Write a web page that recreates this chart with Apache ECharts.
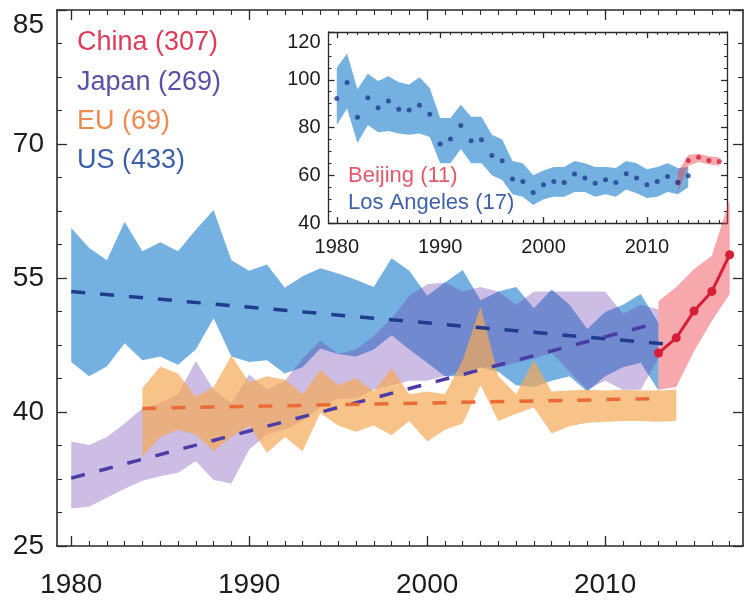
<!DOCTYPE html>
<html>
<head>
<meta charset="utf-8">
<script src="https://cdn.jsdelivr.net/npm/echarts@6/dist/echarts.min.js"></script>
<style>
  html, body { margin: 0; padding: 0; background: #fff; }
  #chart { width: 748px; height: 603px; }
</style>
</head>
<body>
<div id="chart"></div>
<script>
// ---- Yearly ozone statistics (main panel) ----
const yearsUsJp = [1980,1981,1982,1983,1984,1985,1986,1987,1988,1989,1990,1991,1992,1993,1994,1995,1996,1997,1998,1999,2000,2001,2002,2003,2004,2005,2006,2007,2008,2009,2010,2011,2012,2013];
const usUpper = [60.6,58.4,57.0,61.3,58.0,59.0,58.0,60.4,62.6,57.0, 55.8,56.5,53.9,55.2,56.1,55.5,54.8,54.0,57.2,55.8, 53.0,54.5,55.9,52.5,53.5,54.0,51.6,53.7,52.0,49.3, 51.2,52.0,53.2,50.0];
const usLower = [45.6,44.0,45.1,47.7,45.8,46.2,45.3,47.0,50.5,46.2, 45.6,45.8,44.3,45.0,47.1,46.5,46.2,47.0,48.6,47.0, 45.5,44.0,44.0,45.0,44.5,43.0,42.8,43.5,44.0,42.3, 44.0,45.0,45.5,42.4];
const jpUpper = [36.7,36.3,37.2,38.7,40.4,41.0,42.0,45.7,42.5,41.0, 44.2,42.5,43.5,46.0,48.0,46.5,47.0,48.5,50.5,53.0, 54.3,54.5,53.5,54.0,53.5,52.0,53.5,53.5,53.5,53.5, 53.5,51.0,52.0,51.5];
const jpLower = [29.2,29.4,30.4,31.4,32.3,32.8,33.2,34.5,32.4,32.0, 35.8,37.5,38.0,39.0,40.5,41.5,41.5,42.5,43.0,43.5, 43.5,44.0,44.5,45.0,45.0,45.5,46.0,46.6,44.5,42.5, 43.5,42.5,42.5,46.0];

const yearsEu = [1984,1985,1986,1987,1988,1989,1990,1991,1992,1993,1994,1995,1996,1997,1998,1999,2000,2001,2002,2003,2004,2005,2006,2007,2008,2009,2010,2011,2012,2013,2014];
const euUpper = [42.7,45.1,44.3,41.7,42.8,46.3,43.3,44.0,43.6,42.0, 44.7,43.0,43.8,42.3,44.9,42.0,42.3,42.0,45.8,51.8, 44.0,42.0,45.8,42.3,42.4,42.5,42.4,42.5,42.4,42.4, 42.5];
const euLower = [35.0,37.2,38.0,37.5,35.6,37.2,38.5,35.4,37.2,35.6, 39.9,38.5,37.8,38.5,37.4,39.0,36.7,38.0,38.7,43.0, 39.0,39.8,40.5,37.6,38.4,38.8,38.9,39.0,39.0,38.9, 39.0];

const yearsCn = [2013,2014,2015,2016,2017];
const cnMean  = [46.6,48.3,51.3,53.5,57.6];
const cnLower = [42.5,42.8,46.8,50.2,53.2];
const cnUpper = [52.4,54.0,56.0,57.5,63.8];

// Linear trends (start/end points)
const usTrendYears = [1980, 2014];
const usTrend      = [53.5, 47.5];
const jpTrendYears = [1980, 2013];
const jpTrend      = [32.6, 50.0];
const euTrendYears = [1984, 2013];
const euTrend      = [40.4, 41.5];

// ---- City records (inset) ----
const yearsLa = [1980,1981,1982,1983,1984,1985,1986,1987,1988,1989,1990,1991,1992,1993,1994,1995,1996,1997,1998,1999,2000,2001,2002,2003,2004,2005,2006,2007,2008,2009,2010,2011,2012,2013,2014];
const laMean  = [92.1,98.8,84.3,92.5,88.3,91.1,87.6,87.3,89.3,85.5, 73.1,75.2,80.8,74.5,74.9,68.3,66.1,58.4,57.4,52.8, 56.0,57.4,57.0,60.5,58.8,56.7,58.1,57.0,60.6,58.9, 56.0,57.4,59.5,57.0,59.8];
const laLower = [81.0,88.0,73.5,81.0,78.0,78.5,77.5,77.0,77.5,76.0, 65.0,65.0,71.0,65.0,65.0,60.0,58.0,52.0,51.0,47.5, 50.0,51.0,51.0,53.0,53.0,51.0,52.0,51.0,54.0,52.5, 50.5,51.0,53.0,52.0,55.0];
const laUpper = [105.0,111.0,96.0,102.5,99.5,101.5,99.0,98.0,101.0,96.5, 84.0,84.0,89.5,84.5,84.5,77.0,75.0,66.0,65.0,60.0, 62.0,63.5,63.5,66.0,65.0,63.5,63.5,63.0,66.0,65.0, 62.5,63.5,65.0,63.0,63.5];

const yearsBj = [2013,2014,2015,2016,2017];
const bjMean  = [57.0,66.2,67.5,66.2,65.8];
const bjLower = [53.0,64.0,65.5,64.5,64.0];
const bjUpper = [61.5,68.5,69.0,68.0,67.5];

// ---- Tick values ----
const xMajorTicks = [1980,1990,2000,2010];
const xMinorTicks = [1980,1981,1982,1983,1984,1985,1986,1987,1988,1989,1990,1991,1992,1993,1994,1995,1996,1997,1998,1999,2000,2001,2002,2003,2004,2005,2006,2007,2008,2009,2010,2011,2012,2013,2014,2015,2016,2017];
const yMainMajor = [25,40,55,70,85];
const yMainMinor = [28.75,32.5,36.25,43.75,47.5,51.25,58.75,62.5,66.25,73.75,77.5,81.25];
const yInsetMajor = [40,60,80,100,120];
const yInsetMinor = [45,50,55,65,70,75,85,90,95,105,110,115];

const FONT = '"Liberation Sans", Arial, Helvetica, sans-serif';
const INK = '#2a2a2a';
const TEXT = '#1c1c1c';

const pairs = (xs, ys) => xs.map((x, i) => [x, ys[i]]);

// Shaded range: one polygon through the upper edge and back along the lower edge
function band(id, axis, xs, lo, hi, fill) {
  const rows = xs.map((x, i) => [x, lo[i], hi[i]]);
  return {
    type: 'custom', id: id, coordinateSystem: 'cartesian2d', xAxisIndex: axis, yAxisIndex: axis,
    data: rows, encode: { x: 0, y: [1, 2] }, silent: true, clip: false,
    renderItem: function (params, api) {
      if (params.dataIndex !== 0) return null;
      const top = rows.map(r => api.coord([r[0], r[2]]));
      const bottom = rows.map(r => api.coord([r[0], r[1]])).reverse();
      return { type: 'polygon', shape: { points: top.concat(bottom) }, style: { fill: fill } };
    }
  };
}

const yearLabel = v => String(v);

function xAxisSet(grid, labelSize, labelMargin, majorLen, minorLen, lineW) {
  const common = { gridIndex: grid, type: 'value', min: 1979.2, max: 2017.75, splitLine: { show: false } };
  return [
    Object.assign({}, common, { position: 'bottom',
      axisLine: { show: true, onZero: false, lineStyle: { color: INK, width: lineW } },
      axisTick: { show: true, inside: true, length: majorLen, customValues: xMajorTicks, lineStyle: { color: INK, width: 1.3 } },
      axisLabel: { show: true, customValues: xMajorTicks, margin: labelMargin, fontSize: labelSize, fontFamily: FONT, color: TEXT, formatter: yearLabel } }),
    Object.assign({}, common, { position: 'bottom',
      axisLine: { show: false, onZero: false },
      axisTick: { show: true, inside: true, length: minorLen, customValues: xMinorTicks, lineStyle: { color: INK, width: 1.1 } },
      axisLabel: { show: false } }),
    Object.assign({}, common, { position: 'top',
      axisLine: { show: true, onZero: false, lineStyle: { color: INK, width: lineW } },
      axisTick: { show: true, inside: true, length: majorLen, customValues: xMajorTicks, lineStyle: { color: INK, width: 1.3 } },
      axisLabel: { show: false } }),
    Object.assign({}, common, { position: 'top',
      axisLine: { show: false, onZero: false },
      axisTick: { show: true, inside: true, length: minorLen, customValues: xMinorTicks, lineStyle: { color: INK, width: 1.1 } },
      axisLabel: { show: false } })
  ];
}

function yAxisSet(grid, min, max, major, minor, labelSize, labelMargin, topPad, majorLen, minorLen, lineW) {
  const common = { gridIndex: grid, type: 'value', min: min, max: max, splitLine: { show: false } };
  const topVal = major[major.length - 1];
  return [
    Object.assign({}, common, { position: 'left',
      axisLine: { show: true, onZero: false, lineStyle: { color: INK, width: lineW } },
      axisTick: { show: true, inside: true, length: majorLen, customValues: major, lineStyle: { color: INK, width: 1.3 } },
      axisLabel: { show: true, customValues: major, margin: labelMargin, fontSize: labelSize, fontFamily: FONT, color: TEXT,
        formatter: v => (v === topVal ? '{top|' + v + '}' : String(v)),
        rich: { top: { padding: [topPad, 0, 0, 0], fontSize: labelSize, fontFamily: FONT, color: TEXT } } } }),
    Object.assign({}, common, { position: 'left',
      axisLine: { show: false, onZero: false },
      axisTick: { show: true, inside: true, length: minorLen, customValues: minor, lineStyle: { color: INK, width: 1.1 } },
      axisLabel: { show: false } }),
    Object.assign({}, common, { position: 'right',
      axisLine: { show: true, onZero: false, lineStyle: { color: INK, width: lineW } },
      axisTick: { show: true, inside: true, length: majorLen, customValues: major, lineStyle: { color: INK, width: 1.3 } },
      axisLabel: { show: false } }),
    Object.assign({}, common, { position: 'right',
      axisLine: { show: false, onZero: false },
      axisTick: { show: true, inside: true, length: minorLen, customValues: minor, lineStyle: { color: INK, width: 1.1 } },
      axisLabel: { show: false } })
  ];
}

const MAIN = 0, INSET = 4;
const DASH = [14, 15];

const series = [
  // main panel ranges, drawn back to front
  band('us', MAIN, yearsUsJp, usLower, usUpper, 'rgba(62,146,212,0.72)'),
  band('jp', MAIN, yearsUsJp, jpLower, jpUpper, 'rgba(108,62,176,0.34)'),
  band('eu', MAIN, yearsEu, euLower, euUpper, 'rgba(245,170,86,0.7)'),
  band('cn', MAIN, yearsCn, cnLower, cnUpper, 'rgba(236,62,74,0.45)'),
  { type: 'line', id: 'usTrend', xAxisIndex: MAIN, yAxisIndex: MAIN, data: pairs(usTrendYears, usTrend), symbol: 'none',
    lineStyle: { color: '#1f3c8e', width: 3.5, type: DASH }, silent: true },
  { type: 'line', id: 'jpTrend', xAxisIndex: MAIN, yAxisIndex: MAIN, data: pairs(jpTrendYears, jpTrend), symbol: 'none',
    lineStyle: { color: '#4b3ca6', width: 3.5, type: DASH }, silent: true },
  { type: 'line', id: 'euTrend', xAxisIndex: MAIN, yAxisIndex: MAIN, data: pairs(euTrendYears, euTrend), symbol: 'none',
    lineStyle: { color: '#ea6c34', width: 3.5, type: DASH }, silent: true },
  { type: 'line', id: 'cnMean', xAxisIndex: MAIN, yAxisIndex: MAIN, data: pairs(yearsCn, cnMean), symbol: 'circle', symbolSize: 9,
    itemStyle: { color: '#d61f36' }, lineStyle: { color: '#d61f36', width: 3 }, silent: true },
  // inset: Los Angeles and Beijing
  band('la', INSET, yearsLa, laLower, laUpper, 'rgba(62,146,212,0.72)'),
  { type: 'scatter', id: 'bjDots', xAxisIndex: INSET, yAxisIndex: INSET, data: pairs(yearsBj, bjMean),
    symbol: 'circle', symbolSize: 5, itemStyle: { color: '#d61f36' }, silent: true },
  { type: 'scatter', id: 'laDots', xAxisIndex: INSET, yAxisIndex: INSET, data: pairs(yearsLa, laMean),
    symbol: 'circle', symbolSize: 5, itemStyle: { color: '#1f3c8e' }, silent: true },
  band('bj', INSET, yearsBj, bjLower, bjUpper, 'rgba(236,62,74,0.45)')
];

const legendText = (x, y, text, color, size) => ({
  type: 'text', x: x, y: y, z: 100,
  style: { text: text, fill: color, fontSize: size, fontFamily: FONT, verticalAlign: 'middle', align: 'left' }
});

const option = {
  animation: false,
  backgroundColor: '#fff',
  grid: [
    { left: 57, right: 5, top: 10, bottom: 57, show: false },
    { left: 328.5, right: 21, top: 32, bottom: 380, show: false }
  ],
  xAxis: [].concat(
    xAxisSet(0, 28, 25, 10, 5, 1.6),
    xAxisSet(1, 20, 14, 6, 3, 1.3)
  ),
  yAxis: [].concat(
    yAxisSet(0, 25, 85, yMainMajor, yMainMinor, 28, 13, 30, 10, 5, 1.6),
    yAxisSet(1, 40, 120, yInsetMajor, yInsetMinor, 20, 8, 20, 6, 3, 1.3)
  ),
  series: series,
  graphic: [
    legendText(77, 43, 'China (307)', '#dc3c57', 27),
    legendText(77, 83, 'Japan (269)', '#5a50a8', 27),
    legendText(77, 122, 'EU (69)', '#ef8a52', 27),
    legendText(77, 161, 'US (433)', '#3c5fab', 27),
    legendText(348, 176, 'Beijing (11)', '#e6596b', 22),
    legendText(348, 203, 'Los Angeles (17)', '#3f62ad', 22)
  ]
};

const chart = echarts.init(document.getElementById('chart'), null, { renderer: 'canvas' });
chart.setOption(option);
</script>
</body>
</html>
